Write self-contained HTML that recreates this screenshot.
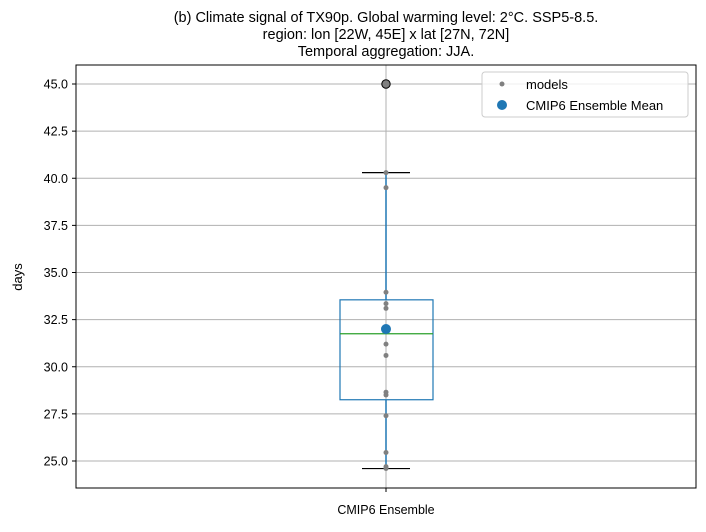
<!DOCTYPE html>
<html><head><meta charset="utf-8"><style>
body{margin:0;background:#fff;}
svg text{font-family:"Liberation Sans","DejaVu Sans",sans-serif;}
</style></head><body>
<svg id="c" width="706" height="527" xmlns="http://www.w3.org/2000/svg">
<text x="386" y="22" text-anchor="middle" font-size="14.5">(b) Climate signal of TX90p. Global warming level: 2°C. SSP5-8.5.</text>
<text x="386" y="39" text-anchor="middle" font-size="14.5">region: lon [22W, 45E] x lat [27N, 72N]</text>
<text x="386" y="56" text-anchor="middle" font-size="14.5">Temporal aggregation: JJA.</text>
<text transform="translate(22,277) rotate(-90)" text-anchor="middle" font-size="13">days</text>
<g id="grid"></g><g id="marks"></g>
<rect x="76" y="65" width="620" height="423" fill="none" stroke="#000" stroke-width="1"/>
<g>
<rect x="482" y="72" width="206" height="45" rx="3" fill="#fff" fill-opacity="0.8" stroke="#ccc"/>
<circle cx="502" cy="84" r="2.5" fill="#808080"/>
<text x="526" y="89" font-size="13">models</text>
<circle cx="502" cy="105" r="5" fill="#1f77b4"/>
<text x="526" y="110" font-size="13">CMIP6 Ensemble Mean</text>
</g>
</svg>
<script>
const yTicks=[25,27.5,30,32.5,35,37.5,40,42.5,45];
const category=["CMIP6 Ensemble"];
const models=[45.0,40.3,39.5,33.95,33.35,33.1,32.0,31.2,30.6,28.65,28.5,27.4,25.45,24.7,24.6];
const ensembleMean=[32.0];
const boxStats=[24.6,28.25,31.75,33.55,40.3]; // whiskerLow,q1,median,q3,whiskerHigh
const outliers=[45.0];
const NS="http://www.w3.org/2000/svg";
const y=v=>461-(v-25)*18.85;
const x=i=>386;
function el(t,a,p){const e=document.createElementNS(NS,t);for(const k in a)e.setAttribute(k,a[k]);p.appendChild(e);return e;}
const g=document.getElementById('grid'),m=document.getElementById('marks');
yTicks.forEach(v=>{
 const l=el('line',{x1:76,x2:696,y1:y(v),y2:y(v),stroke:'#b0b0b0','stroke-width':1},g);
 
 
 el('line',{x1:72,x2:76,y1:y(v),y2:y(v),stroke:'#000'},g);
 const t=el('text',{x:68,y:y(v)+4.5,'text-anchor':'end','font-size':12.5},g);t.textContent=v.toFixed(1);
 
 
});
category.forEach((c,i)=>{
 const cx=x(i);
 el('line',{x1:cx,x2:cx,y1:65,y2:488,stroke:'#b0b0b0'},g);
 el('line',{x1:cx,x2:cx,y1:488,y2:492,stroke:'#000'},g);
 const t=el('text',{x:cx,y:514,'text-anchor':'middle','font-size':12.5},g);t.textContent=c;
 
 
 const [lo,q1,md,q3,hi]=boxStats;
 const w1=el('line',{x1:cx,x2:cx,y1:y(q3),y2:y(hi),stroke:'#1f77b4','stroke-width':1.5},m);
 
 
 const w2=el('line',{x1:cx,x2:cx,y1:y(q1),y2:y(lo),stroke:'#1f77b4','stroke-width':1.5},m);
 
 
 [lo,hi].forEach(v=>{const cap=el('line',{x1:cx-24,x2:cx+24,y1:y(v),y2:y(v),stroke:'#000','stroke-width':1.2},m);
 
 });
 const b=el('rect',{x:cx-46,width:93,y:y(q3),height:y(q1)-y(q3),fill:'none',stroke:'#1f77b4','stroke-width':1.2},m);
 
 
 const md_=el('line',{x1:cx-46,x2:cx+47,y1:y(md),y2:y(md),stroke:'#2ca02c','stroke-width':1.2},m);
 
 
 models.forEach(v=>{const p=el('circle',{cx:cx,cy:y(v),r:2.5,fill:'#808080'},m);
 
 });
 outliers.forEach(v=>{const o=el('circle',{cx:cx,cy:y(v),r:4.2,fill:'#808080',stroke:'#000','stroke-width':1},m);
 
 });
 const mm=el('circle',{cx:cx,cy:y(ensembleMean[i]),r:5,fill:'#1f77b4'},m);
 
 
});
</script>
</body></html>
